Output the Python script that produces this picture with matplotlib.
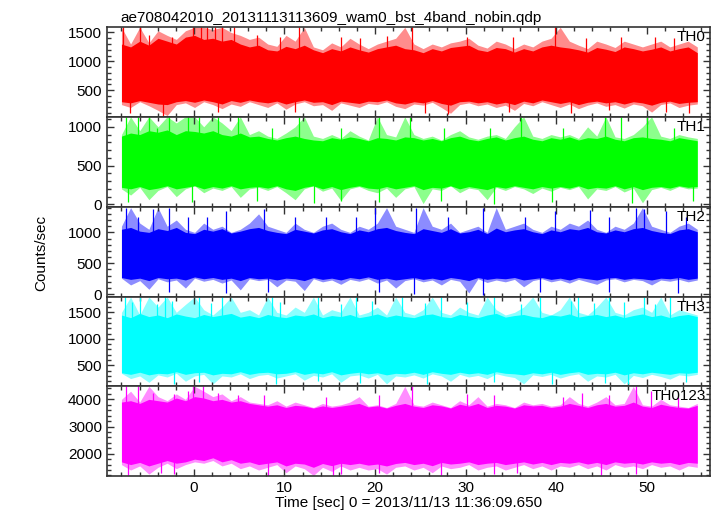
import numpy as np
import matplotlib.pyplot as plt
from matplotlib.ticker import MultipleLocator

plt.rcParams['font.family'] = ['Liberation Sans', 'DejaVu Sans']

# dense part of each light curve (upper / lower edge), read at 1 sec steps, t = -8 ... 55.6
th0_top = [1300, 1250, 1350, 1280, 1400, 1350, 1300, 1420, 1450, 1380, 1400, 1350, 1380, 1300, 1250, 1280,
           1200, 1180, 1260, 1220, 1280, 1200, 1150, 1220, 1180, 1250, 1200, 1160, 1220, 1250, 1280, 1220,
           1200, 1150, 1220, 1180, 1240, 1260, 1280, 1200, 1170, 1240, 1220, 1160, 1220, 1180, 1250, 1280,
           1250, 1230, 1200, 1160, 1240, 1210, 1170, 1250, 1220, 1180, 1210, 1250, 1180, 1220, 1250, 1150]
th0_bot = [300, 280, 320, 290, 260, 250, 300, 320, 290, 330, 300, 260, 320, 290, 330, 300,
           280, 310, 260, 300, 330, 290, 300, 250, 310, 290, 270, 310, 300, 330, 280, 260,
           300, 280, 320, 270, 240, 300, 310, 280, 300, 260, 290, 250, 310, 280, 330, 300,
           270, 300, 250, 290, 310, 280, 300, 260, 300, 280, 240, 290, 310, 270, 290, 300]
# outer reach of the spikes at the same steps
th0_max = [1590, 1300, 1590, 1320, 1530, 1450, 1380, 1530, 1590, 1590, 1550, 1590, 1500, 1450, 1380, 1420,
           1300, 1260, 1450, 1350, 1590, 1250, 1200, 1320, 1250, 1400, 1300, 1220, 1300, 1350, 1400, 1590,
           1300, 1220, 1300, 1250, 1320, 1350, 1400, 1280, 1230, 1350, 1300, 1220, 1300, 1250, 1350, 1400,
           1590, 1350, 1280, 1220, 1350, 1300, 1240, 1350, 1300, 1250, 1300, 1350, 1250, 1300, 1350, 1250]
th0_min = [250, 200, 300, 230, 150, 60, 250, 280, 200, 300, 250, 180, 260, 220, 300, 250,
           200, 280, 170, 260, 300, 230, 250, 150, 280, 240, 200, 270, 250, 300, 220, 180,
           260, 240, 290, 200, 100, 250, 280, 230, 260, 200, 240, 150, 270, 230, 300, 250,
           200, 260, 180, 240, 280, 220, 250, 190, 260, 230, 120, 250, 280, 200, 240, 260]

th1_top = [880, 920, 900, 950, 930, 960, 900, 950, 940, 920, 950, 900, 880, 920, 870, 880,
           850, 830, 860, 880, 850, 830, 820, 860, 840, 870, 850, 820, 860, 850, 830, 870,
           860, 830, 850, 820, 860, 880, 840, 820, 850, 870, 830, 860, 880, 840, 820, 860,
           840, 870, 830, 860, 850, 880, 840, 820, 860, 870, 850, 840, 820, 860, 840, 820]
th1_bot = [220, 200, 230, 190, 210, 240, 200, 220, 240, 200, 230, 210, 240, 200, 220, 230,
           210, 240, 200, 180, 220, 240, 200, 230, 190, 220, 240, 210, 200, 230, 200, 220,
           240, 190, 220, 210, 240, 200, 230, 210, 190, 230, 210, 240, 220, 200, 230, 210,
           230, 210, 240, 200, 220, 210, 240, 200, 230, 190, 220, 230, 210, 240, 220, 230]
th1_max = [900, 1130, 950, 1130, 1000, 1130, 1050, 1130, 1130, 1000, 1130, 1050, 950, 1130, 900, 950,
           880, 850, 920, 1000, 1130, 880, 850, 900, 850, 950, 880, 830, 1130, 900, 870, 1130,
           900, 850, 880, 830, 900, 950, 870, 840, 880, 900, 850, 1000, 1130, 880, 850, 900,
           870, 900, 850, 1000, 880, 1130, 870, 850, 900, 1000, 1130, 880, 850, 900, 870, 850]
th1_min = [200, 120, 220, 60, 180, 230, 100, 200, 240, 150, 210, 180, 230, 90, 200, 220,
           180, 230, 150, 60, 200, 240, 170, 210, 50, 200, 230, 180, 150, 210, 90, 200,
           230, 10, 200, 180, 240, 150, 210, 190, 60, 220, 180, 230, 200, 140, 210, 170,
           220, 190, 230, 70, 200, 180, 230, 160, 210, 20, 190, 220, 180, 230, 200, 210]

th2_top = [1050, 1080, 1020, 1000, 1060, 1030, 1080, 1000, 980, 1050, 1020, 1060, 990, 1020, 1060, 1080,
           1030, 1000, 980, 1050, 1020, 990, 1040, 1060, 1010, 980, 1040, 1010, 1060, 1080, 1030, 1000,
           980, 1060, 1030, 1000, 1060, 990, 1010, 1050, 980, 1070, 1010, 1040, 1060, 1010, 980, 1040,
           1010, 1060, 1040, 1080, 1010, 990, 1040, 1010, 1060, 1080, 1030, 1000, 980, 1040, 1060, 1010]
th2_bot = [270, 240, 260, 220, 270, 250, 260, 230, 280, 250, 270, 240, 260, 220, 270, 250,
           260, 230, 260, 250, 220, 270, 240, 260, 230, 270, 250, 280, 240, 260, 230, 250,
           270, 240, 260, 230, 270, 250, 220, 270, 240, 260, 250, 270, 230, 250, 270, 240,
           260, 230, 270, 250, 230, 260, 270, 240, 260, 250, 230, 260, 250, 270, 240, 260]
th2_max = [1100, 1400, 1150, 1050, 1400, 1100, 1200, 1050, 1000, 1150, 1050, 1100, 1000, 1050, 1150, 1300,
           1100, 1050, 1000, 1150, 1050, 1000, 1100, 1150, 1050, 1000, 1100, 1050, 1150, 1400, 1100, 1050,
           1000, 1400, 1100, 1050, 1150, 1000, 1050, 1100, 1000, 1400, 1050, 1100, 1150, 1050, 1000, 1100,
           1050, 1150, 1100, 1200, 1050, 1000, 1100, 1050, 1150, 1400, 1100, 1050, 1000, 1100, 1150, 1050]
th2_min = [260, 150, 220, 80, 250, 200, 230, 100, 260, 210, 240, 180, 230, 70, 250, 220,
           240, 120, 230, 210, 60, 250, 200, 230, 160, 240, 210, 250, 180, 230, 100, 220,
           250, 200, 230, 150, 240, 210, 20, 250, 190, 230, 200, 240, 120, 220, 250, 200,
           230, 180, 240, 200, 160, 230, 250, 200, 240, 220, 150, 230, 210, 240, 200, 230]

th3_top = [1450, 1400, 1480, 1420, 1450, 1400, 1470, 1430, 1400, 1460, 1420, 1450, 1480, 1410, 1440, 1400,
           1460, 1420, 1400, 1450, 1430, 1470, 1400, 1440, 1420, 1460, 1400, 1430, 1470, 1410, 1450, 1420,
           1400, 1450, 1470, 1420, 1400, 1460, 1430, 1400, 1450, 1480, 1410, 1440, 1460, 1420, 1400, 1450,
           1430, 1470, 1410, 1440, 1460, 1420, 1450, 1400, 1440, 1470, 1420, 1450, 1400, 1440, 1460, 1420]
th3_bot = [360, 330, 370, 320, 350, 340, 380, 330, 360, 370, 320, 350, 340, 380, 330, 360,
           370, 340, 350, 380, 330, 360, 340, 380, 320, 350, 370, 340, 360, 320, 350, 340,
           370, 330, 380, 350, 330, 370, 340, 360, 330, 380, 350, 340, 320, 360, 340, 370,
           330, 360, 380, 330, 350, 340, 370, 320, 360, 340, 370, 350, 330, 360, 350, 370]
th3_max = [1500, 1790, 1450, 1790, 1600, 1790, 1500, 1650, 1790, 1550, 1450, 1600, 1790, 1500, 1550, 1450,
           1790, 1500, 1450, 1600, 1500, 1790, 1450, 1550, 1500, 1790, 1450, 1500, 1600, 1450, 1790, 1500,
           1450, 1550, 1790, 1500, 1450, 1600, 1500, 1450, 1790, 1550, 1450, 1500, 1600, 1790, 1500, 1450,
           1550, 1790, 1500, 1450, 1600, 1790, 1500, 1450, 1550, 1600, 1500, 1790, 1450, 1550, 1500, 1450]
th3_min = [350, 250, 300, 180, 320, 280, 350, 200, 300, 330, 150, 300, 280, 340, 250, 310,
           330, 260, 300, 340, 220, 310, 280, 340, 180, 300, 320, 260, 330, 150, 300, 280,
           320, 260, 340, 300, 200, 330, 280, 310, 250, 340, 300, 270, 150, 320, 290, 330,
           260, 310, 340, 200, 300, 280, 330, 150, 310, 270, 330, 290, 240, 320, 300, 330]

th0123_top = [3900, 3950, 3850, 4000, 3950, 3900, 4050, 3950, 4100, 4050, 3950, 4000, 3900, 3950, 3850, 3800,
              3750, 3800, 3700, 3780, 3750, 3680, 3760, 3700, 3750, 3800, 3850, 3720, 3760, 3680, 3780, 3850,
              3750, 3700, 3800, 3760, 3680, 3820, 3750, 3850, 3700, 3780, 3750, 3680, 3800, 3760, 3780, 3700,
              3750, 3850, 3780, 3700, 3800, 3850, 3750, 3780, 3900, 3750, 3700, 3820, 3750, 3700, 3680, 3780]
th0123_bot = [1700, 1600, 1680, 1550, 1650, 1750, 1650, 1700, 1800, 1750, 1850, 1700, 1780, 1650, 1700, 1600,
              1650, 1700, 1550, 1650, 1620, 1500, 1640, 1560, 1650, 1600, 1650, 1580, 1620, 1550, 1640, 1680,
              1600, 1650, 1560, 1680, 1620, 1650, 1700, 1600, 1650, 1680, 1600, 1650, 1700, 1620, 1680, 1600,
              1680, 1650, 1700, 1620, 1680, 1600, 1700, 1650, 1680, 1620, 1700, 1650, 1680, 1600, 1680, 1650]
th0123_max = [4000, 4300, 3900, 4480, 4100, 3950, 4200, 4000, 4480, 4300, 4100, 4200, 3950, 4100, 3900, 3850,
              3800, 3950, 3750, 3900, 3800, 3700, 3850, 3750, 3800, 3900, 4100, 3750, 3800, 3700, 3850, 4480,
              3800, 3750, 3900, 3800, 3700, 3950, 3800, 4100, 3750, 3850, 3800, 3700, 3900, 3800, 3850, 3750,
              3800, 4100, 3850, 3750, 3900, 4100, 3800, 3850, 4480, 3800, 3750, 4000, 3800, 3750, 3700, 3850]
th0123_min = [1600, 1400, 1550, 1250, 1500, 1650, 1450, 1600, 1700, 1650, 1750, 1550, 1650, 1450, 1550, 1400,
              1500, 1600, 1300, 1550, 1450, 1200, 1500, 1350, 1550, 1400, 1500, 1400, 1450, 1250, 1500, 1550,
              1400, 1500, 1300, 1550, 1450, 1500, 1600, 1400, 1500, 1550, 1400, 1500, 1600, 1450, 1550, 1400,
              1550, 1500, 1600, 1450, 1550, 1400, 1600, 1500, 1550, 1450, 1600, 1500, 1550, 1400, 1550, 1500]

# the taller single spikes (time, value)
th0_spk_t = [-7.87, -5.97, -4.91, -2.37, -0.05, 0.80, 1.43, 2.28, 3.13, 4.39, 6.93, 9.47, 11.59, 16.24,
             18.35, 21.31, 24.06, 30.20, 35.27, 39.93, 43.31, 47.12, 50.93, 53.04,
             -7.03, -3.43, 2.70, 11.16, 25.54, 28.08, 34.85, 41.62, 45.85, 52.19, 54.73]
th0_spk_v = [1590, 1590, 1450, 1420, 1590, 1590, 1590, 1590, 1590, 1590, 1450, 1420, 1590, 1420,
             1400, 1440, 1590, 1430, 1420, 1590, 1400, 1430, 1420, 1400,
             100, 55, 120, 130, 110, 80, 130, 100, 150, 120, 100]

th1_spk_t = [-7.45, -6.18, -4.91, -4.07, -2.80, -0.68, 0.59, 2.70, 4.82, 8.62, 11.59, 16.24, 20.47, 23.85,
             27.66, 32.74, 36.12, 40.77, 45.43, 47.12, 50.08, 53.04,
             -7.24, -0.26, 6.93, 13.28, 16.24, 20.47, 27.24, 33.16, 39.50, 48.39, 55.16]
th1_spk_v = [1120, 1120, 1120, 990, 1120, 1120, 1120, 1120, 1120, 990, 1120, 990, 1120, 1120,
             990, 990, 1120, 990, 1120, 1120, 1120, 990,
             30, 30, 40, 20, 50, 30, 40, 10, 30, 20, 40]

th2_spk_t = [-7.45, -4.49, -2.80, 3.55, 7.78, 20.05, 24.49, 31.89, 39.93, 43.73, 48.81, 49.66, 52.19,
             -6.18, -0.68, 1.43, 11.16, 14.55, 17.93, 28.08, 36.54, 45.85, 54.31,
             -2.80, 3.55, 8.20, 20.47, 24.28, 31.89, 38.24, 45.85, 53.46]
th2_spk_v = [1400, 1380, 1400, 1350, 1370, 1400, 1400, 1390, 1350, 1360, 1400, 1380, 1350,
             1250, 1250, 1250, 1250, 1250, 1250, 1250, 1250, 1250, 1250,
             30, 20, 40, 30, 10, -20, 40, 30, 20]

th3_spk_t = [-7.66, -6.82, -5.97, -4.07, -3.22, -2.37, 0.59, 1.86, 3.13, 8.62, 9.47, 13.70, 16.24, 17.93,
             19.62, 23.01, 25.54, 27.24, 30.20, 33.16, 36.12, 38.24, 41.62, 42.47, 44.16, 45.85, 47.54,
             49.66, 50.93, 52.62,
             -2.16, 0.59, 9.05, 13.70, 18.35, 25.76, 33.16, 39.50, 45.43, 47.96, 54.31]
th3_spk_v = [1790, 1700, 1790, 1650, 1790, 1720, 1790, 1680, 1790, 1790, 1700, 1790, 1650, 1790,
             1720, 1790, 1680, 1790, 1700, 1790, 1650, 1790, 1720, 1790, 1680, 1790, 1700,
             1790, 1650, 1790,
             145, 180, 150, 200, 160, 145, 190, 150, 170, 145, 180]

th0123_spk_t = [-7.45, -6.18, -0.05, 1.01, 24.06, 48.81,
                -4.49, -2.16, -0.68, 2.70, 4.82, 7.78, 14.55, 20.47, 30.20, 33.16, 40.77, 42.89, 45.85,
                50.50, 53.46,
                -7.24, -3.64, -2.16, 8.20, 15.39, 16.24, 20.47, 27.24, 33.16, 35.70, 45.00, 48.81]
th0123_spk_v = [4480, 4480, 4480, 4480, 4480, 4480,
                4250, 4200, 4300, 4250, 4150, 4150, 4100, 4150, 4200, 4150, 4100, 4250, 4150,
                4300, 4100,
                1200, 1300, 1250, 1190, 1200, 1250, 1300, 1220, 1250, 1300, 1220, 1250]

names = ['TH0', 'TH1', 'TH2', 'TH3', 'TH0123']
tops = [th0_top, th1_top, th2_top, th3_top, th0123_top]
bots = [th0_bot, th1_bot, th2_bot, th3_bot, th0123_bot]
maxs = [th0_max, th1_max, th2_max, th3_max, th0123_max]
mins = [th0_min, th1_min, th2_min, th3_min, th0123_min]
spk_t = [th0_spk_t, th1_spk_t, th2_spk_t, th3_spk_t, th0123_spk_t]
spk_v = [th0_spk_v, th1_spk_v, th2_spk_v, th3_spk_v, th0123_spk_v]
colors = ['#ff0000', '#00ff00', '#0000ff', '#00ffff', '#ff00ff']
ylims = [(40, 1590), (-30, 1130), (-40, 1415), (110, 1795), (1180, 4490)]
yticks = [[500, 1000, 1500], [0, 500, 1000], [0, 500, 1000], [500, 1000, 1500], [2000, 3000, 4000]]
yminor = [100, 100, 100, 100, 200]

t = np.linspace(-8.0, 55.6, len(th0_top))

fig = plt.figure(figsize=(7.17, 5.16), dpi=100)

# panel edges in figure fraction (top to bottom)
edges = [0.9471, 0.7738, 0.5994, 0.4250, 0.2519, 0.0775]
axes = []
for i in range(5):
    ax = fig.add_axes([0.1492, edges[i + 1], 0.841, edges[i] - edges[i + 1]])
    top = np.array(tops[i])
    bot = np.array(bots[i])
    # spiky fringe drawn lighter, solid core on top
    ax.fill_between(t, mins[i], maxs[i], color=colors[i], alpha=0.45, lw=0)
    ax.fill_between(t, bot, top, color=colors[i], lw=0)
    # spikes start from the middle of the band
    base = np.interp(spk_t[i], t, (top + bot) / 2)
    ax.vlines(spk_t[i], base, spk_v[i], color=colors[i], lw=0.9)
    ax.set_xlim(-9.6, 57.0)
    ax.set_ylim(*ylims[i])
    ax.set_yticks(yticks[i])
    ax.xaxis.set_major_locator(MultipleLocator(10))
    ax.xaxis.set_minor_locator(MultipleLocator(2))
    ax.yaxis.set_minor_locator(MultipleLocator(yminor[i]))
    ax.tick_params(which='both', direction='in', top=True, right=True, labelsize=11, colors='#333333',
                   labelcolor='black', width=1)
    ax.tick_params(which='major', length=5)
    ax.tick_params(which='minor', length=3)
    for s in ax.spines.values():
        s.set_linewidth(1.2)
        s.set_color('#333333')
    if i < 4:
        ax.tick_params(labelbottom=False)
    ax.annotate(names[i], xy=(1, 1), xycoords='axes fraction', xytext=(-4, -3),
                textcoords='offset pixels', ha='right', va='top', fontsize=11)
    axes.append(ax)

axes[0].set_title('ae708042010_20131113113609_wam0_bst_4band_nobin.qdp', loc='left', fontsize=11, pad=4,
                  x=0.022)
axes[4].set_xlabel('Time [sec] 0 = 2013/11/13 11:36:09.650', fontsize=11, labelpad=1)
fig.text(0.058, 0.51, 'Counts/sec', rotation=90, ha='center', va='center', fontsize=11)

fig.savefig('out.png', dpi=100)
